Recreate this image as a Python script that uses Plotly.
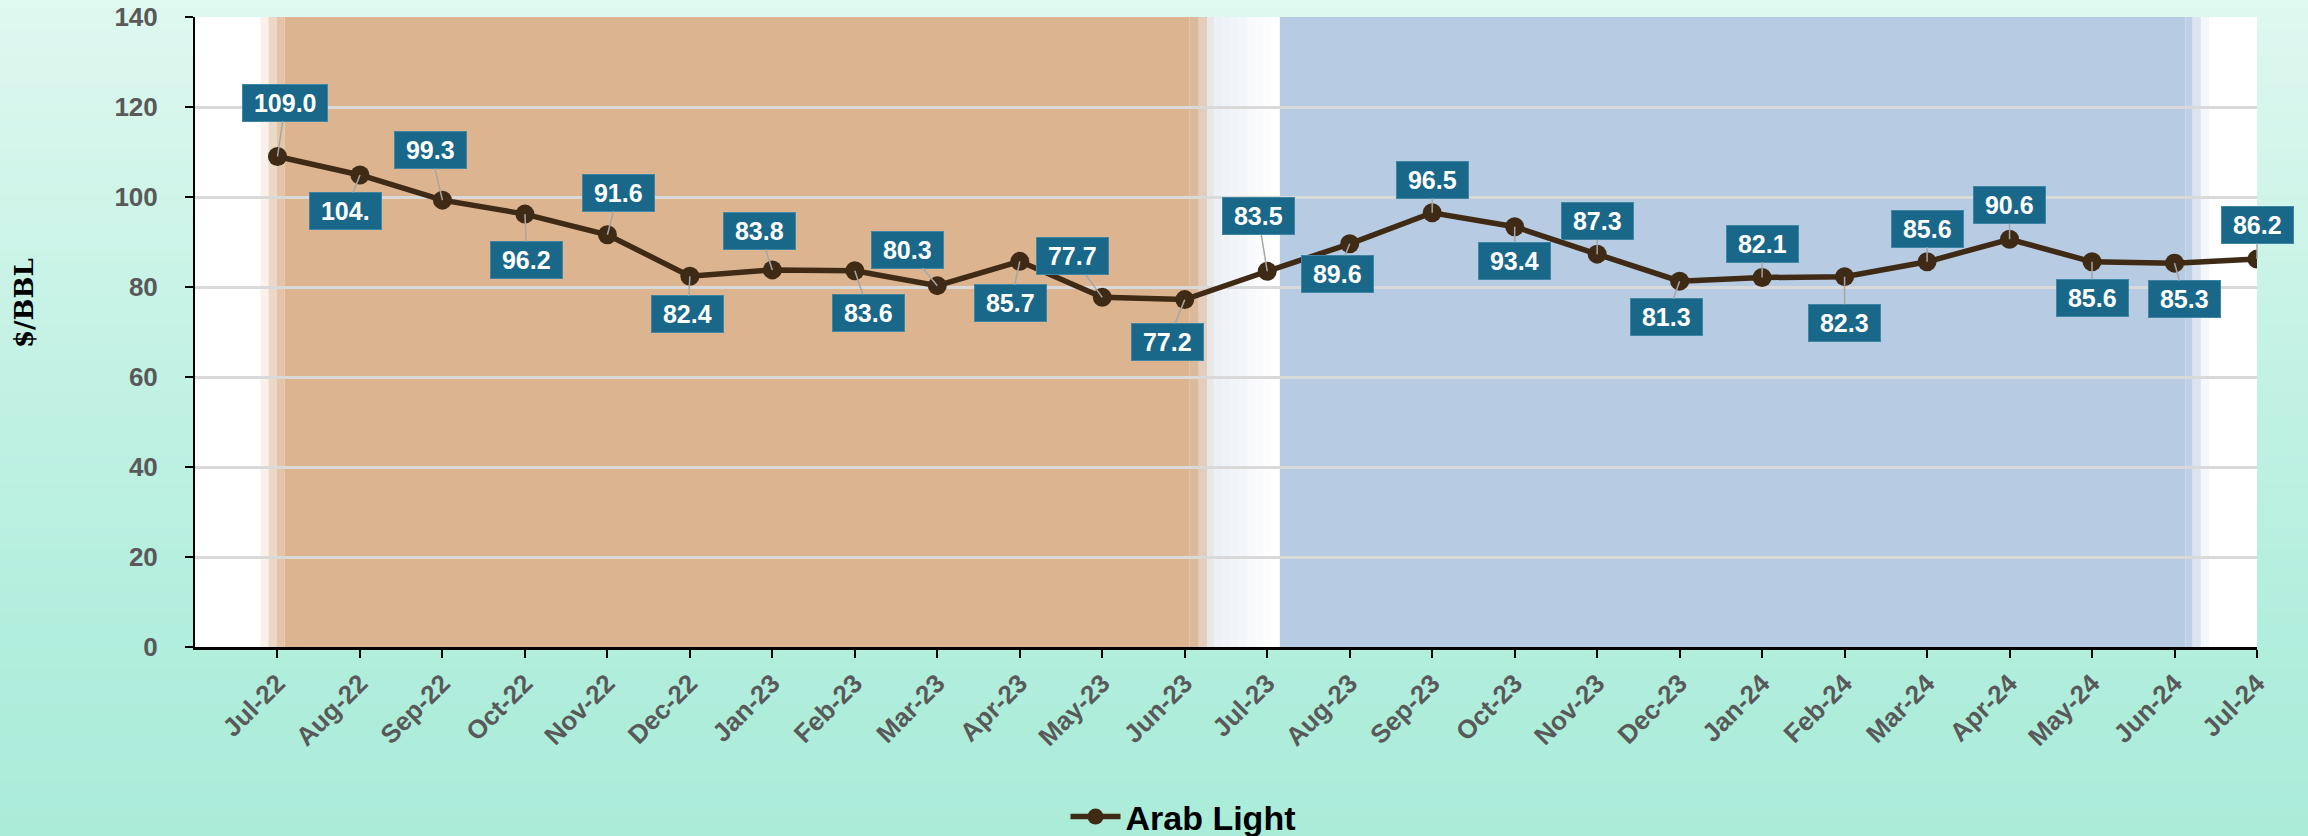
import plotly.graph_objects as go

# ---------------- data ----------------
months = ["Jul-22", "Aug-22", "Sep-22", "Oct-22", "Nov-22", "Dec-22", "Jan-23", "Feb-23",
          "Mar-23", "Apr-23", "May-23", "Jun-23", "Jul-23", "Aug-23", "Sep-23", "Oct-23",
          "Nov-23", "Dec-23", "Jan-24", "Feb-24", "Mar-24", "Apr-24", "May-24", "Jun-24",
          "Jul-24"]
arab_light = [109.0, 104.9, 99.3, 96.2, 91.6, 82.4, 83.8, 83.6, 80.3, 85.7, 77.7, 77.2,
              83.5, 89.6, 96.5, 93.4, 87.3, 81.3, 82.1, 82.3, 85.6, 90.6, 85.6, 85.3, 86.2]
label_text = ["109.0", "104.", "99.3", "96.2", "91.6", "82.4", "83.8", "83.6", "80.3",
              "85.7", "77.7", "77.2", "83.5", "89.6", "96.5", "93.4", "87.3", "81.3",
              "82.1", "82.3", "85.6", "90.6", "85.6", "85.3", "86.2"]
series_name = "Arab Light"
y_title = "$/BBL"
y_ticks = [0, 20, 40, 60, 80, 100, 120, 140]

# ---------------- layout constants ----------------
W, H = 2308, 836
ML, MR, MT, MB = 195, 51, 17, 189
PW, PH = W - ML - MR, H - MT - MB

# label offsets (px) relative to each point
label_offsets = [(8, -54), (-14, 36), (-12, -50), (2, 46), (11, -42), (-2, 38), (-13, -39),
                 (14, 42), (-30, -36), (-9, 42), (-30, -41), (-17, 42), (-9, -55), (-12, 30),
                 (0, -33), (0, 34), (0, -33), (-13, 36), (0, -34), (0, 46), (0, -33),
                 (0, -34), (0, 36), (10, 36), (0, -34)]

LINE_COLOR = "#3f2a15"
LABEL_BG = "#19688a"
GREY_TXT = "#595959"
FONT = "Liberation Sans"

shapes = []

# paper gradient background (vertical)
stops = [(0.0, (223, 248, 240)), (0.35, (200, 243, 230)), (0.75, (178, 238, 221)), (1.0, (171, 236, 217))]


def grad(t):
    for (t0, c0), (t1, c1) in zip(stops[:-1], stops[1:]):
        if t <= t1:
            f = (t - t0) / (t1 - t0) if t1 > t0 else 0
            return tuple(round(a + (b - a) * f) for a, b in zip(c0, c1))
    return stops[-1][1]


N = 90
for i in range(N):
    py0 = H * i / N
    py1 = H * (i + 1) / N + 1
    c = grad((i + 0.5) / N)
    shapes.append(dict(type="rect", xref="paper", yref="paper",
                       x0=-ML / PW, x1=(W - ML) / PW,
                       y0=(H - MB - py0) / PH, y1=(H - MB - py1) / PH,
                       fillcolor="rgb(%d,%d,%d)" % c, line=dict(width=0), layer="below"))

# white plot area
shapes.append(dict(type="rect", xref="paper", yref="paper", x0=0, x1=1, y0=0, y1=1,
                   fillcolor="white", line=dict(width=0), layer="below"))

# shaded period bands (category units)
bands = [(-0.206, -0.109, "#f9f1ec"), (-0.109, -0.012, "#ecd8c6"), (-0.012, 0.085, "#e3c4a8"),
         (0.085, 11.06, "#dcb490"), (11.06, 11.17, "#ddb99b"), (11.17, 11.27, "#e3cdbd"),
         (11.27, 11.36, "#e8e8e9"),
         (12.15, 23.13, "#b7cbe2"), (23.13, 23.22, "#bfd0e6"), (23.22, 23.32, "#dbe4f0"),
         (23.32, 23.42, "#f5f8fb")]
# fading light band between the two periods
fade0, fade1 = 11.36, 12.15
nf = 8
for k in range(nf):
    a = fade0 + (fade1 - fade0) * k / nf
    b = fade0 + (fade1 - fade0) * (k + 1) / nf
    f = k / (nf - 1)
    c = tuple(round(x + (255 - x) * f) for x in (236, 241, 247))
    bands.append((a, b, "rgb(%d,%d,%d)" % c))
for x0, x1, col in bands:
    shapes.append(dict(type="rect", xref="x", yref="paper", x0=x0, x1=x1, y0=0, y1=1,
                       fillcolor=col, line=dict(width=0), layer="below"))

fig = go.Figure()
fig.add_trace(go.Scatter(
    x=months, y=arab_light, name=series_name, mode="lines+markers",
    line=dict(color=LINE_COLOR, width=5.5),
    marker=dict(color=LINE_COLOR, size=19),
    showlegend=True,
))

annotations = []
for m, v, t, (dx, dy) in zip(months, arab_light, label_text, label_offsets):
    annotations.append(dict(
        x=m, y=v, xref="x", yref="y", text=" " + t + " ",
        showarrow=True, arrowhead=0, arrowwidth=1.5, arrowcolor="#a6a6a6",
        ax=dx, ay=dy, standoff=0,
        bgcolor=LABEL_BG, bordercolor="#3f86a5", borderwidth=1, borderpad=4,
        font=dict(family=FONT, size=25, color="white", weight="bold"),
    ))

# y-axis title (rotated)
annotations.append(dict(
    text=y_title, xref="paper", yref="paper",
    x=(24 - ML) / PW, y=(H - MB - 303) / PH, xanchor="center", yanchor="middle",
    showarrow=False, textangle=-90,
    font=dict(family="DejaVu Serif", size=26, color="black", weight="bold"),
))

fig.update_layout(
    width=W, height=H,
    autosize=False,
    margin=dict(l=ML, r=MR, t=MT, b=MB, pad=0, autoexpand=False),
    paper_bgcolor="#c4f1e3",
    plot_bgcolor="rgba(0,0,0,0)",
    shapes=shapes,
    annotations=annotations,
    showlegend=True,
    legend=dict(orientation="h", xref="container", yref="container",
                x=1183 / W, xanchor="center", y=1 - 817 / H, yanchor="middle",
                font=dict(family=FONT, size=34, color="black", weight="bold"),
                bgcolor="rgba(0,0,0,0)", itemwidth=50),
    xaxis=dict(
        type="category", range=[-1, 24], categoryorder="array", categoryarray=months,
        automargin=False,
        showgrid=False, showline=True, linecolor="black", linewidth=2.5,
        ticks="outside", ticklen=8, tickwidth=2, tickcolor="black",
        tickangle=-45, tickfont=dict(family=FONT, size=26, color=GREY_TXT, weight="bold"),
        zeroline=False,
    ),
    yaxis=dict(
        range=[0, 140], tickvals=y_ticks, showgrid=True, gridcolor="#d9d9d9", gridwidth=2.5,
        automargin=False,
        showline=True, linecolor="black", linewidth=2,
        ticks="outside", ticklen=8, tickwidth=2, tickcolor="black",
        tickfont=dict(family=FONT, size=26, color=GREY_TXT, weight="bold"),
        ticklabelstandoff=22,
        zeroline=False,
    ),
)

fig.write_html("out.html",
               config={"displayModeBar": False, "responsive": False},
               post_script="document.body.style.margin='0';document.body.style.overflow='hidden';")
